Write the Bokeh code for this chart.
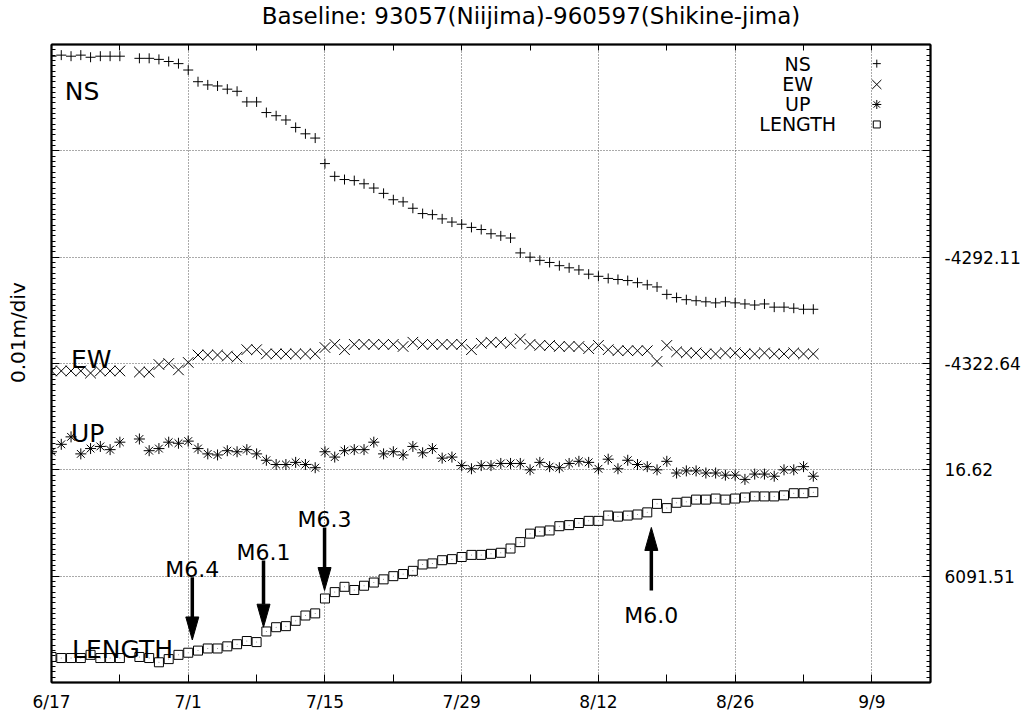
import numpy as np
import pandas as pd
from bokeh.plotting import figure
from bokeh.models import FixedTicker, LinearAxis, Range1d, Grid, ColumnDataSource, Label
from bokeh.core.properties import value
from bokeh.embed import file_html
from bokeh.resources import INLINE

# ---------------- data (offsets in 0.01 m = 1 div, from each series' reference value) -------------
START = "2000-06-17"
END = "2000-09-03"

REF_LABELS = {"NS": "-4292.11", "EW": "-4322.64", "UP": "16.62", "LENGTH": "6091.51"}

ns_cm = [1.89, 1.90, 1.89, 1.90, 1.88, 1.89, 1.89, 1.89, None,
         1.87, 1.87, 1.86, 1.84, 1.82, 1.76,
         1.65, 1.62, 1.61, 1.58, 1.56, 1.46, 1.46, 1.36, 1.33, 1.29, 1.22, 1.16, 1.12,
         0.88, 0.76, 0.73, 0.72, 0.69, 0.65, 0.60, 0.54, 0.52, 0.46, 0.41, 0.40, 0.36, 0.33,
         0.31, 0.28, 0.26, 0.22, 0.20, 0.18,
         0.04, 0.00, -0.03, -0.05, -0.08, -0.10, -0.12, -0.16, -0.18, -0.20, -0.21, -0.22,
         -0.24, -0.26, -0.28,
         -0.35, -0.38, -0.40, -0.41, -0.42, -0.43, -0.42, -0.43, -0.44, -0.45, -0.44, -0.47,
         -0.47, -0.48, -0.49, -0.49]

ew_cm = [-0.07, -0.07, -0.07, -0.07, -0.09, -0.07, -0.07, -0.07, None,
         -0.08, -0.08, -0.01, 0.00, -0.06, 0.01,
         0.08, 0.08, 0.08, 0.07, 0.06, 0.13, 0.13, 0.09, 0.09, 0.09, 0.09, 0.09, 0.09,
         0.15, 0.18, 0.13, 0.18, 0.18, 0.18, 0.18, 0.18, 0.16, 0.20, 0.18, 0.18, 0.18, 0.18,
         0.18, 0.13, 0.19, 0.20, 0.20, 0.19,
         0.23, 0.18, 0.17, 0.17, 0.16, 0.16, 0.16, 0.14, 0.17, 0.13, 0.12, 0.12,
         0.12, 0.12, 0.02,
         0.17, 0.11, 0.10, 0.10, 0.09, 0.09, 0.10, 0.10, 0.09, 0.09, 0.10, 0.09,
         0.09, 0.10, 0.09, 0.09]

up_cm = [0.17, 0.24, 0.31, 0.15, 0.20, 0.22, 0.19, 0.26, None,
         0.29, 0.18, 0.20, 0.26, 0.25, 0.27,
         0.20, 0.15, 0.14, 0.18, 0.17, 0.19, 0.15, 0.09, 0.05, 0.05, 0.07, 0.05, 0.02,
         0.17, 0.12, 0.18, 0.19, 0.19, 0.26, 0.15, 0.17, 0.14, 0.22, 0.16, 0.20, 0.11, 0.12,
         0.04, 0.01, 0.04, 0.04, 0.06, 0.06,
         0.06, 0.00, 0.07, 0.03, 0.02, 0.06, 0.08, 0.07, 0.01, 0.10, 0.01, 0.09,
         0.05, 0.03, 0.00,
         0.08, -0.03, -0.01, -0.01, -0.03, -0.03, -0.05, -0.05, -0.09, -0.04, -0.04, -0.06,
         0.00, 0.00, 0.03, -0.06]

length_cm = [-0.76, -0.77, -0.77, -0.77, -0.74, -0.77, -0.77, -0.77, None,
             -0.76, -0.77, -0.81, -0.78, -0.74, -0.72,
             -0.70, -0.68, -0.68, -0.66, -0.64, -0.61, -0.62, -0.52, -0.48, -0.47, -0.42, -0.37, -0.35,
             -0.21, -0.15, -0.10, -0.13, -0.09, -0.06, -0.03, 0.00, 0.02, 0.05, 0.11, 0.12, 0.15, 0.16,
             0.18, 0.20, 0.20, 0.21, 0.22, 0.26,
             0.32, 0.40, 0.42, 0.43, 0.47, 0.48, 0.50, 0.52, 0.52, 0.57, 0.56, 0.57,
             0.58, 0.60, 0.68,
             0.64, 0.69, 0.70, 0.72, 0.72, 0.73, 0.72, 0.73, 0.74, 0.75, 0.75, 0.75,
             0.76, 0.78, 0.78, 0.79]

EVENT_LABELS = ["M6.4", "M6.1", "M6.3", "M6.0"]
EVENT_TIMES = ["2000-07-01 10:00", "2000-07-08 17:00", "2000-07-14 23:00", "2000-08-17 10:00"]

TICK_DATES = ["2000-06-17", "2000-07-01", "2000-07-15", "2000-07-29",
              "2000-08-12", "2000-08-26", "2000-09-09"]
RANGE_END = "2000-09-15"

TITLE = "Baseline: 93057(Niijima)-960597(Shikine-jima)"
YLABEL = "0.01m/div"

# ---------------- derived ----------------
t0 = pd.Timestamp(START)
dates = pd.date_range(START, END)
day = np.array([(d - t0).days for d in dates], dtype=float)

def clean(vals):
    return np.array([np.nan if v is None else v for v in vals], dtype=float)

series = [("NS", ns_cm, 4), ("EW", ew_cm, 3), ("UP", up_cm, 2), ("LENGTH", length_cm, 1)]

FONT = "DejaVu Sans"
p = figure(width=1032, height=718, output_backend="svg", toolbar_location=None,
           x_range=Range1d(0, (pd.Timestamp(RANGE_END) - t0).days),
           y_range=Range1d(0, 6),
           x_axis_type=None, y_axis_type=None,
           min_border_left=51, min_border_right=102, min_border_top=44, min_border_bottom=36)
p.background_fill_color = "white"
p.border_fill_color = "white"
p.outline_line_color = "black"
p.outline_line_width = 1.5

major_x = [(pd.Timestamp(d) - t0).days for d in TICK_DATES]
week_x = list(range(0, 91, 7))
labels_x = {float(w): "" for w in week_x}
for d in TICK_DATES:
    labels_x[float((pd.Timestamp(d) - t0).days)] = pd.Timestamp(d).strftime("%-m/%-d")

# grids
gx = Grid(dimension=0, ticker=FixedTicker(ticks=major_x[1:]), grid_line_color="#555555",
          grid_line_dash="1 2", grid_line_width=1)
gy = Grid(dimension=1, ticker=FixedTicker(ticks=[1, 2, 3, 4, 5]), grid_line_color="#555555",
          grid_line_dash="1 2", grid_line_width=1)
p.add_layout(gx)
p.add_layout(gy)

def style_axis(ax):
    ax.axis_line_color = "black"
    ax.axis_line_width = 2
    ax.major_tick_line_color = "black"
    ax.minor_tick_line_color = "black"
    ax.major_tick_in = 8
    ax.major_tick_out = 0
    ax.minor_tick_in = 4
    ax.minor_tick_out = 0
    ax.major_label_text_font = FONT
    ax.major_label_text_font_size = "17px"
    ax.major_label_text_color = "black"

bottom = LinearAxis(ticker=FixedTicker(ticks=week_x), major_label_overrides=labels_x)
style_axis(bottom)
bottom.major_label_standoff = 9
p.add_layout(bottom, "below")

top = LinearAxis(ticker=FixedTicker(ticks=week_x),
                 major_label_overrides={float(w): "" for w in week_x})
style_axis(top)
top.major_tick_in = 6
top.major_label_text_font_size = "0px"
top.major_label_standoff = 0
p.add_layout(top, "above")

minor_y = [round(v, 3) for v in np.arange(0, 6.0001, 0.05)]
left = LinearAxis(ticker=FixedTicker(ticks=list(range(7)), minor_ticks=minor_y),
                  major_label_overrides={float(i): "" for i in range(7)})
style_axis(left)
left.major_label_text_font_size = "0px"
left.major_label_standoff = 0
p.add_layout(left, "left")

right_labels = {float(i): "" for i in range(7)}
for name, _, lvl in series:
    right_labels[float(lvl)] = REF_LABELS[name]
right = LinearAxis(ticker=FixedTicker(ticks=list(range(7)), minor_ticks=minor_y),
                   major_label_overrides=right_labels)
style_axis(right)
right.major_label_standoff = 14
p.add_layout(right, "right")

# title (above the frame) and y label (left of the frame), placed in side panels
p.add_layout(Label(x=49.1, y=6.267, text=TITLE, text_align="center", text_baseline="alphabetic",
                   text_font=FONT, text_font_size="23px", text_color="black"), "above")
p.add_layout(Label(x=-3.38, y=3.29, text=YLABEL, text_align="center", text_baseline="middle",
                   angle=np.pi / 2, text_font=FONT, text_font_size="20px", text_color="black"),
             "left")

# series
markers = {"NS": ("cross", 10), "EW": ("x", 15), "UP": ("asterisk", 11), "LENGTH": ("square", 9)}
for name, vals, lvl in series:
    y = clean(vals) + lvl
    ok = ~np.isnan(y)
    src = ColumnDataSource(dict(x=day[ok], y=y[ok]))
    m, s = markers[name]
    p.scatter("x", "y", source=src, marker=m, size=s, line_color="black", line_width=1,
              fill_color="white" if m == "square" else None)
    if name == "LENGTH":
        p.scatter("x", "y", source=src, marker="dot", size=4, line_color="#777777")

# series labels inside the plot
lab_x = [1.35, 2.0, 2.0, 2.1]
lab_y = [5.56, 3.04, 2.34, 0.31]
p.text(x=lab_x, y=lab_y, text=[s[0] for s in series], text_font=value(FONT),
       text_font_size=value("25px"), text_align="left", text_baseline="alphabetic",
       text_color="black")

# legend (top right)
leg_y = [5.82, 5.624, 5.436, 5.248]
p.text(x=[76.4] * 4, y=leg_y, text=[s[0] for s in series], text_font=value(FONT),
       text_font_size=value("19px"), text_align="center", text_baseline="middle",
       text_color="black")
for (name, _, _), yy in zip(series, leg_y):
    m, s = markers[name]
    p.scatter([84.5], [yy], marker=m, size=s - 2, line_color="black", line_width=1,
              fill_color="white" if m == "square" else None)

# earthquake arrows
ev_x = [(pd.Timestamp(t) - t0).total_seconds() / 86400 for t in EVENT_TIMES]
tails = [0.99, 1.147, 1.458, 0.865]
tips = [0.40, 0.52, 0.865, 1.458]
text_y = [1.06, 1.22, 1.53, 0.63]
px_day = 879 / 90.0
px_div = 638 / 6.0
head_len = 23 / px_div
head_hw = 6.5 / px_day
sx0, sy0, sx1, sy1, hx, hy = [], [], [], [], [], []
for x, ta, ti in zip(ev_x, tails, tips):
    sgn = 1 if ti > ta else -1
    base = ti - sgn * head_len
    sx0.append(x); sy0.append(ta); sx1.append(x); sy1.append(base)
    hx.append([x - head_hw, x + head_hw, x])
    hy.append([base, base, ti])
p.segment(sx0, sy0, sx1, sy1, line_color="black", line_width=3.5)
p.patches(hx, hy, fill_color="black", line_color="black", line_width=1)
p.text(x=ev_x, y=text_y, text=EVENT_LABELS, text_font=value(FONT),
       text_font_size=value("22px"), text_align="center", text_baseline="alphabetic",
       text_color="black")

open("out.html", "w").write(file_html(p, INLINE))
